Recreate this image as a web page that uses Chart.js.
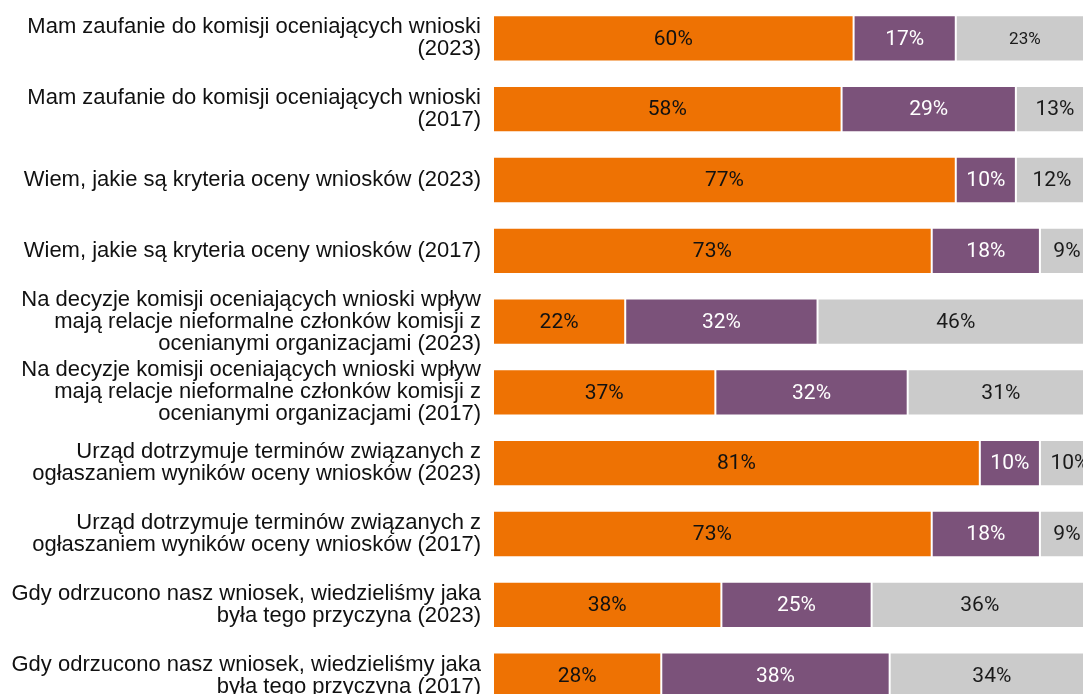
<!DOCTYPE html>
<html>
<head>
<meta charset="utf-8">
<script src="https://cdn.jsdelivr.net/npm/chart.js@4"></script>
<style>
  html, body { margin: 0; padding: 0; background: #fff; overflow: hidden; width: 1083px; height: 694px; }
  #wrap { position: absolute; left: 0; top: 0; width: 1094px; height: 714px; }
</style>
</head>
<body>
<div id="wrap"><canvas id="c" width="1094" height="714"></canvas></div>
<script>
const categories = [
  ["Mam zaufanie do komisji oceniających wnioski", "(2023)"],
  ["Mam zaufanie do komisji oceniających wnioski", "(2017)"],
  ["Wiem, jakie są kryteria oceny wniosków (2023)"],
  ["Wiem, jakie są kryteria oceny wniosków (2017)"],
  ["Na decyzje komisji oceniających wnioski wpływ", "mają relacje nieformalne członków komisji z", "ocenianymi organizacjami (2023)"],
  ["Na decyzje komisji oceniających wnioski wpływ", "mają relacje nieformalne członków komisji z", "ocenianymi organizacjami (2017)"],
  ["Urząd dotrzymuje terminów związanych z", "ogłaszaniem wyników oceny wniosków (2023)"],
  ["Urząd dotrzymuje terminów związanych z", "ogłaszaniem wyników oceny wniosków (2017)"],
  ["Gdy odrzucono nasz wniosek, wiedzieliśmy jaka", "była tego przyczyna (2023)"],
  ["Gdy odrzucono nasz wniosek, wiedzieliśmy jaka", "była tego przyczyna (2017)"]
];
const seriesNames = ["Zgadzam się", "Nie zgadzam się", "Trudno powiedzieć"];
const agree    = [60, 58, 77, 73, 22, 37, 81, 73, 38, 28];
const disagree = [17, 29, 10, 18, 32, 32, 10, 18, 25, 38];
const unsure   = [23, 13, 12,  9, 46, 31, 10,  9, 36, 34];

const colors = ["#EE7203", "#7B527A", "#CBCBCB"];
const labelColors = ["#111111", "#FFFFFF", "#1a1a1a"];

const valueLabels = {
  id: "valueLabels",
  afterDatasetsDraw(chart) {
    const ctx = chart.ctx;
    ctx.save();
    ctx.textAlign = "center";
    ctx.textBaseline = "middle";
    chart.data.datasets.forEach((ds, di) => {
      const meta = chart.getDatasetMeta(di);
      meta.data.forEach((el, i) => {
        const v = ds.data[i];
        const p = el.getCenterPoint();
        const size = (di === 2 && i === 0) ? 17 : 21;
        ctx.font = size + "px Roboto";
        ctx.fillStyle = labelColors[di];
        ctx.fillText(v + "%", p.x, p.y + 1);
      });
    });
    ctx.restore();
  }
};

new Chart(document.getElementById("c"), {
  type: "bar",
  data: {
    labels: categories,
    datasets: [
      { label: seriesNames[0], data: agree,    backgroundColor: colors[0] },
      { label: seriesNames[1], data: disagree, backgroundColor: colors[1] },
      { label: seriesNames[2], data: unsure,   backgroundColor: colors[2] }
    ]
  },
  options: {
    indexAxis: "y",
    responsive: false,
    animation: false,
    datasets: {
      bar: {
        barPercentage: 0.654,
        categoryPercentage: 1,
        borderWidth: 1,
        borderColor: "#ffffff",
        borderSkipped: false
      }
    },
    layout: { padding: { top: 3, bottom: 3, left: 0, right: 0 } },
    plugins: {
      legend: { display: false },
      tooltip: { enabled: false }
    },
    scales: {
      x: {
        stacked: true,
        min: 0,
        max: 100,
        display: false
      },
      y: {
        stacked: true,
        grid: { display: false, drawTicks: false },
        border: { display: false },
        ticks: {
          padding: 12,
          color: "#111111",
          font: { family: "'Liberation Sans', Arial, sans-serif", size: 22, lineHeight: 1.0 }
        },
        afterFit(scale) {
          scale.width = 493;
          scale.paddingTop = 0;
          scale.paddingBottom = 0;
        }
      }
    }
  },
  plugins: [valueLabels]
});
</script>
</body>
</html>
